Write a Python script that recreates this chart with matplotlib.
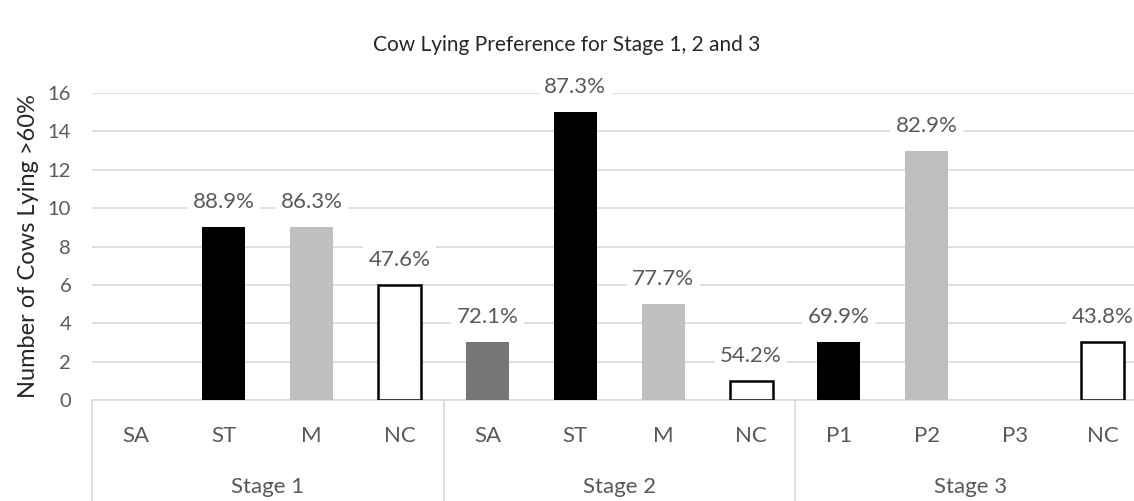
import numpy as np
import matplotlib.pyplot as plt

# datos del grafico
etapas = ['Stage 1', 'Stage 2', 'Stage 3']
categorias = ['SA', 'ST', 'M', 'NC', 'SA', 'ST', 'M', 'NC', 'P1', 'P2', 'P3', 'NC']
vacas = [0, 9, 9, 6, 3, 15, 5, 1, 3, 13, 0, 3]
porcentajes = ['', '88.9%', '86.3%', '47.6%', '72.1%', '87.3%', '77.7%', '54.2%',
               '69.9%', '82.9%', '', '43.8%']
colores = ['#bfbfbf', '#000000', '#bfbfbf', '#ffffff', '#767676', '#000000', '#bfbfbf',
           '#ffffff', '#000000', '#bfbfbf', '#bfbfbf', '#ffffff']

plt.rcParams['font.family'] = ['Lato', 'DejaVu Sans']
gris_texto = '#595959'
gris_linea = '#d9d9d9'

fig = plt.figure(figsize=(11.34, 5.01), dpi=100)
W, H = 1134, 501
ax = fig.add_axes([92 / W, 101 / H, (1146.5 - 92) / W, (400 - 93) / H])

x = np.arange(len(categorias))
bordes = ['#000000' if c == '#ffffff' else c for c in colores]
anchos = [1.8 if c == '#ffffff' else 0 for c in colores]
barras = ax.bar(x, vacas, width=0.49, color=colores, edgecolor=bordes,
                linewidth=anchos, zorder=3)

for xi, v, txt in zip(x, vacas, porcentajes):
    if txt:
        ax.annotate(txt, (xi, v), xytext=(0, 18), textcoords='offset points',
                    ha='center', va='center', fontsize=16, color=gris_texto, zorder=4,
                    bbox=dict(boxstyle='square,pad=0.25', fc='white', ec='none'))

ax.set_xlim(-0.5, len(categorias) - 0.5)
ax.set_ylim(0, 16)
ax.set_yticks(np.arange(0, 17, 2))
ax.yaxis.grid(True, color=gris_linea, linewidth=1.2, zorder=0)
ax.set_axisbelow(True)
for lado in ['top', 'right', 'left']:
    ax.spines[lado].set_visible(False)
ax.spines['bottom'].set_color(gris_linea)
ax.spines['bottom'].set_linewidth(1.2)

ax.tick_params(axis='y', length=0, labelsize=14.5, labelcolor=gris_texto, pad=15)
ax.set_xticks(x)
ax.set_xticklabels(categorias)
ax.tick_params(axis='x', which='major', length=0, labelsize=16,
               labelcolor=gris_texto, pad=19)

# separadores de etapas
ax.set_xticks(np.arange(-0.5, len(categorias), 4), minor=True)
ax.tick_params(axis='x', which='minor', length=75, width=1.2, color=gris_linea)

for i, etapa in enumerate(etapas):
    ax.text(i * 4 + 1.5, -0.285, etapa, transform=ax.get_xaxis_transform(),
            ha='center', va='center', fontsize=16, color=gris_texto)

ax.set_ylabel('Number of Cows Lying >60%', fontsize=17, color='#262626', labelpad=6)
fig.text(0.5, 1 - 45 / H, 'Cow Lying Preference for Stage 1, 2 and 3',
         ha='center', va='center', fontsize=15, color='#262626')

fig.savefig('out.png', dpi=100)
